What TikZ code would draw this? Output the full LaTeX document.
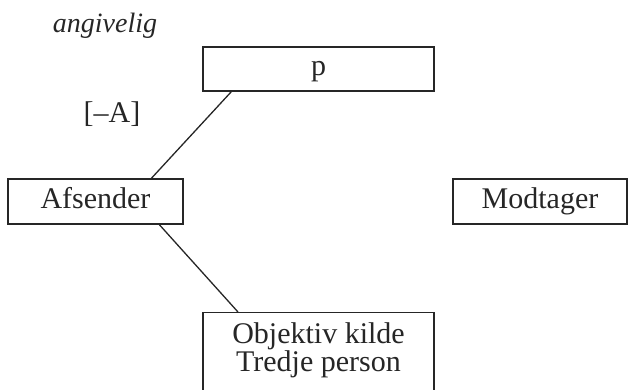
\documentclass[tikz,border=0pt]{standalone}
\usepackage{fontspec}
\setmainfont{Liberation Serif}
\begin{document}
\begin{tikzpicture}[x=1pt,y=-1pt,
  ink/.style={draw=black!85,line width=1.3pt},
  lbl/.style={text=black!85,font=\fontsize{30}{28}\selectfont,inner sep=0pt},
  box/.style={ink,lbl,rectangle,text height=21pt,text depth=7.5pt},
  link/.style={ink}]
\useasboundingbox (0,0) rectangle (629,389);
\clip (0,0) rectangle (629,389);

% free-standing labels
\node[lbl,anchor=base,font=\fontsize{28}{30}\selectfont\itshape] (ang) at (105,32) {angivelig};
\node[lbl,anchor=base] (neg) at (112,122) {[--A]};

% boxes
\node[box,minimum width=231pt,minimum height=44pt] (p) at (318.5,69) {p};
\node[box,minimum width=175pt,minimum height=45pt] (afs) at (95.5,201.5) {Afsender};
\node[box,minimum width=174pt,minimum height=45pt] (mod) at (540,201.5) {Modtager};
\node[ink,rectangle,minimum width=231pt,minimum height=95pt,anchor=north] (obj) at (318.5,312) {};
\node[lbl,align=center,anchor=north] (objtxt) at (318.5,322.5) {Objektiv kilde\\Tredje person};

% connectors
\draw[link] ([xshift=29pt]p.south west) -- ([xshift=144pt]afs.north west);
\draw[link] ([xshift=152pt]afs.south west) -- ([xshift=-80.5pt]obj.north);
\end{tikzpicture}
\end{document}
